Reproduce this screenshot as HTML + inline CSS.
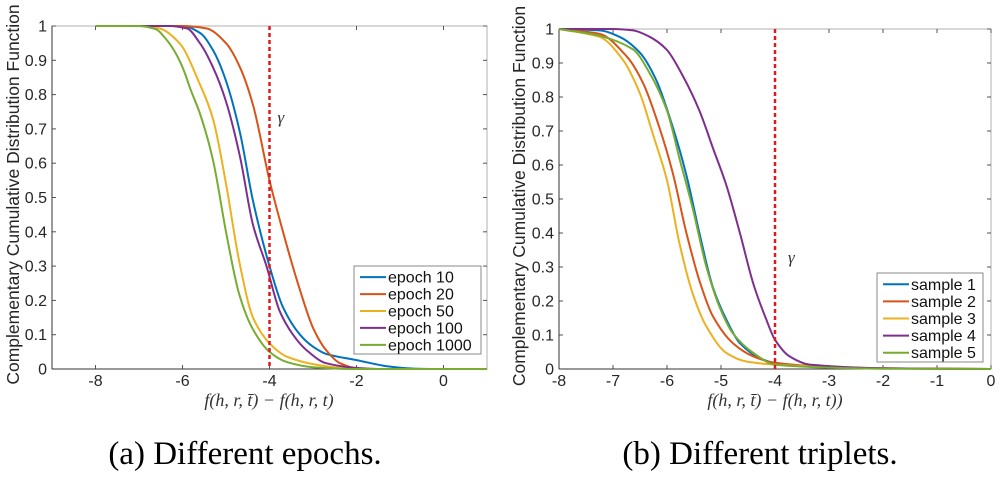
<!DOCTYPE html>
<html><head><meta charset="utf-8">
<style>
html,body{margin:0;padding:0;background:#fff;}
svg{display:block;}
</style></head>
<body>
<svg id="fig" width="1001" height="477" viewBox="0 0 1001 477" xmlns="http://www.w3.org/2000/svg" font-family="Liberation Sans, sans-serif">
</svg>
<script>
// ---- Panel (a) data ----
const aSeriesNames = ["epoch 10","epoch 20","epoch 50","epoch 100","epoch 1000"];
const aEpoch10X = [-8,-6,-5.6,-5.3,-5.0,-4.68,-4.38,-4.0,-3.69,-3.3,-3.0,-2.7,-2.0,-1.23,-0.62,0,1];
const aEpoch10Y = [1,1,0.98,0.93,0.84,0.69,0.49,0.30,0.18,0.10,0.065,0.044,0.026,0.007,0.001,0,0];
const aEpoch20X = [-8,-6,-5.45,-5.0,-4.68,-4.38,-4.0,-3.69,-3.3,-3.0,-2.7,-2.38,-2.0,-1.6,1];
const aEpoch20Y = [1,1,0.993,0.95,0.88,0.77,0.55,0.40,0.23,0.12,0.055,0.017,0.002,0,0];
const aEpoch50X = [-8,-7,-6.53,-6.07,-5.6,-5.3,-5.0,-4.69,-4.38,-4.0,-3.6,-2.9,-2.0,1];
const aEpoch50Y = [1,1,0.993,0.95,0.83,0.73,0.54,0.31,0.15,0.075,0.036,0.012,0,0];
const aEpoch100X = [-8,-6.3,-5.9,-5.6,-5.3,-5.0,-4.68,-4.38,-4.07,-3.77,-3.46,-3.15,-2.7,-2.0,-1.5,1];
const aEpoch100Y = [1,1,0.993,0.95,0.88,0.78,0.62,0.42,0.30,0.17,0.10,0.055,0.017,0.003,0,0];
const aEpoch1000X = [-8,-7,-6.6,-6.4,-6.2,-6.0,-5.8,-5.6,-5.3,-5.0,-4.7,-4.4,-4.0,-3.6,-3.0,-2.4,-2.0,1];
const aEpoch1000Y = [1,1,0.99,0.965,0.93,0.88,0.81,0.745,0.61,0.40,0.22,0.12,0.05,0.02,0.005,0.001,0,0];
const aXTicks = [-8,-6,-4,-2,0];
const aGamma = -4;

// ---- Panel (b) data ----
const bSeriesNames = ["sample 1","sample 2","sample 3","sample 4","sample 5"];
const bSample1X = [-8,-7.25,-6.88,-6.5,-6.2,-5.89,-5.64,-5.4,-5.15,-4.9,-4.65,-4.28,-4.0,-3.0,-2.0,0];
const bSample1Y = [1,0.996,0.977,0.93,0.85,0.71,0.57,0.40,0.24,0.145,0.076,0.032,0.018,0.005,0.002,0];
const bSample2X = [-8,-7.25,-6.75,-6.44,-6.14,-5.89,-5.64,-5.4,-5.15,-4.78,-4.4,-4.0,-3.0,-2.0,0];
const bSample2Y = [1,0.986,0.92,0.84,0.71,0.575,0.40,0.26,0.155,0.076,0.037,0.018,0.006,0.002,0];
const bSample3X = [-8,-7.25,-6.82,-6.5,-6.26,-6.0,-5.77,-5.52,-5.27,-4.9,-4.53,-4.0,-3.0,-2.0,0];
const bSample3Y = [1,0.977,0.91,0.81,0.69,0.555,0.37,0.22,0.125,0.047,0.022,0.013,0.006,0.002,0];
const bSample4X = [-8,-7,-6.63,-6.32,-6.01,-5.7,-5.4,-5.15,-4.9,-4.65,-4.4,-4.16,-4.0,-3.73,-3.36,-2.0,0];
const bSample4Y = [1,1,0.996,0.977,0.94,0.86,0.76,0.65,0.54,0.40,0.25,0.145,0.086,0.037,0.013,0.002,0];
const bSample5X = [-8,-7.25,-6.63,-6.32,-6.0,-5.77,-5.52,-5.27,-5.02,-4.78,-4.4,-4.0,-3.0,-2.0,0];
const bSample5Y = [1,0.98,0.94,0.87,0.76,0.62,0.47,0.30,0.18,0.105,0.047,0.013,0.004,0.001,0];
const bXTicks = [-8,-7,-6,-5,-4,-3,-2,-1,0];
const bGamma = -4;

const yTicks = [0,0.1,0.2,0.3,0.4,0.5,0.6,0.7,0.8,0.9,1];
const colors = ["#0072BD","#D95319","#EDB120","#7E2F8E","#77AC30"];

const NS = "http://www.w3.org/2000/svg";
const svg = document.getElementById("fig");
function mk(tag, attrs, parent, text){
  const e = document.createElementNS(NS, tag);
  for (const k in attrs) e.setAttribute(k, attrs[k]);
  if (text !== undefined) e.textContent = text;
  (parent||svg).appendChild(e);
  return e;
}

// monotone cubic (Fritsch-Carlson) path through pixel points
function monoPath(px, py){
  const n = px.length;
  if (n < 2) return "";
  const d = [], m = new Array(n);
  for (let i=0;i<n-1;i++) d.push((py[i+1]-py[i])/(px[i+1]-px[i]));
  m[0]=d[0]; m[n-1]=d[n-2];
  for (let i=1;i<n-1;i++){
    if (d[i-1]*d[i] <= 0) m[i]=0;
    else m[i] = 2/(1/d[i-1]+1/d[i]);
  }
  let s = "M"+px[0].toFixed(1)+","+py[0].toFixed(1);
  for (let i=0;i<n-1;i++){
    const h = px[i+1]-px[i];
    s += " C"+(px[i]+h/3).toFixed(1)+","+(py[i]+m[i]*h/3).toFixed(1)+" "+
         (px[i+1]-h/3).toFixed(1)+","+(py[i+1]-m[i+1]*h/3).toFixed(1)+" "+
         px[i+1].toFixed(1)+","+py[i+1].toFixed(1);
  }
  return s;
}

function panel(cfg){
  const g = mk("g", {});
  
  
  const L=cfg.L,R=cfg.R,T=cfg.T,B=cfg.B;
  const sx = v => L + (v-cfg.xmin)/(cfg.xmax-cfg.xmin)*(R-L);
  const sy = v => B - v*(B-T);
  const box = mk("rect",{x:L,y:T,width:R-L,height:B-T,fill:"#fff",stroke:"#b0b0b0","stroke-width":1},g);
  
  
  yTicks.forEach(v=>{
    const y = sy(v);
    mk("line",{x1:L,x2:L+4,y1:y,y2:y,stroke:"#555"},g);
    mk("line",{x1:R,x2:R-4,y1:y,y2:y,stroke:"#555"},g);
    const t = mk("text",{x:L-5,y:y+5.5,"text-anchor":"end","font-size":16,fill:"#262626"},g,String(v));
    
    
  });
  cfg.xTicks.forEach(v=>{
    const x = sx(v);
    mk("line",{x1:x,x2:x,y1:B,y2:B-4,stroke:"#555"},g);
    mk("line",{x1:x,x2:x,y1:T,y2:T+4,stroke:"#555"},g);
    const t = mk("text",{x:x,y:B+17,"text-anchor":"middle","font-size":16,fill:"#262626"},g,String(v));
    
    
  });
  mk("line",{x1:L,x2:R,y1:B,y2:B,stroke:"#333"},g);
  mk("line",{x1:L,x2:L,y1:T,y2:B,stroke:"#333"},g);
  cfg.series.forEach((s,i)=>{
    const px = s.x.map(sx), py = s.y.map(sy);
    const p = mk("path",{d:monoPath(px,py),fill:"none",stroke:colors[i],"stroke-width":2,"stroke-linejoin":"round"},g);
    
    
  });
  const gx = sx(cfg.gamma);
  const gl = mk("line",{x1:gx,x2:gx,y1:T,y2:B,stroke:"#e0191b","stroke-width":2.5,"stroke-dasharray":"4,3"},g);
  
  
  const gt = mk("text",{x:gx+cfg.gdx,y:cfg.gy,"font-size":17,"font-style":"italic","font-family":"Liberation Serif, serif",fill:"#333"},g,"γ");
  
  
  const lg = mk("g",{},g);
  
  
  mk("rect",{x:cfg.lx,y:cfg.ly,width:cfg.lw,height:cfg.lh,fill:"#fff",stroke:"#8a8a8a","stroke-width":1},lg);
  const step = cfg.lh/5.2;
  cfg.names.forEach((n,i)=>{
    const y = cfg.ly + step*(i+0.6)+1;
    mk("line",{x1:cfg.lx+6,x2:cfg.lx+32,y1:y,y2:y,stroke:colors[i],"stroke-width":2},lg);
    const t = mk("text",{x:cfg.lx+34,y:y+5.5,"font-size":16,fill:"#111"},lg,n);
    
    
  });
  const cy = (T+B)/2;
  const yl = mk("text",{x:0,y:0,transform:`translate(${cfg.ylx},${cy-3}) rotate(-90)`,"text-anchor":"middle","font-size":17.5,fill:"#262626"},g,"Complementary Cumulative Distribution Function");
  
  
  const xl = mk("text",{x:cfg.xlx,y:406,"text-anchor":"middle","font-size":18,"font-family":"Liberation Serif, serif","font-style":"italic",fill:"#333"},g,cfg.xlabel);
  
  
  const cap = mk("text",{x:cfg.capx,y:464,"text-anchor":"middle","font-size":33,"font-family":"Liberation Serif, serif",fill:"#000"},g,cfg.caption);
  
  
}

panel({name:"panel-a-epochs",L:52,R:487,T:26,B:369,xmin:-9,xmax:1,xTicks:aXTicks,gamma:aGamma,gdx:8,gy:123,
  names:aSeriesNames,
  series:[{x:aEpoch10X,y:aEpoch10Y},{x:aEpoch20X,y:aEpoch20Y},{x:aEpoch50X,y:aEpoch50Y},{x:aEpoch100X,y:aEpoch100Y},{x:aEpoch1000X,y:aEpoch1000Y}],
  lx:354,ly:266,lw:127,lh:88,ylx:19,xlx:269,xlabel:"f(h, r, t̄) − f(h, r, t)",capx:245,caption:"(a) Different epochs."});
panel({name:"panel-b-triplets",L:559,R:991,T:29,B:369,xmin:-8,xmax:0,xTicks:bXTicks,gamma:bGamma,gdx:13,gy:263,
  names:bSeriesNames,
  series:[{x:bSample1X,y:bSample1Y},{x:bSample2X,y:bSample2Y},{x:bSample3X,y:bSample3Y},{x:bSample4X,y:bSample4Y},{x:bSample5X,y:bSample5Y}],
  lx:877,ly:273,lw:106,lh:89,ylx:525,xlx:775,xlabel:"f(h, r, t̄) − f(h, r, t))",capx:760,caption:"(b) Different triplets."});
</script>
</body></html>
